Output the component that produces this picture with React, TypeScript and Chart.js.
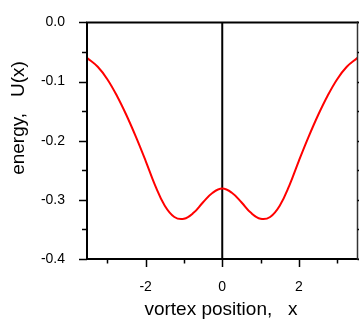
import React, { useEffect, useRef } from "react";
import { Chart, registerables } from "chart.js";

Chart.register(...registerables);

// Vortex energy profile U(x) along the position x
const positions = [
  -3.53, -3.25, -3.0, -2.75, -2.5, -2.25, -2.0, -1.75, -1.5, -1.25, -1.0, -0.75, -0.5, -0.25, 0,
  0.25, 0.5, 0.75, 1.0, 1.25, 1.5, 1.75, 2.0, 2.25, 2.5, 2.75, 3.0, 3.25, 3.53,
];
const energies = [
  -0.06, -0.075, -0.096, -0.124, -0.157, -0.194, -0.234, -0.276, -0.31, -0.329, -0.332, -0.322,
  -0.304, -0.288, -0.281, -0.288, -0.304, -0.322, -0.332, -0.329, -0.31, -0.276, -0.234, -0.194,
  -0.157, -0.124, -0.096, -0.075, -0.06,
];

// Vertical marker at x = 0 spanning the full energy range
const markerX = [0, 0];
const markerY = [0, -0.4];

const xMajorTicks = [-2, 0, 2];
const xMinorTicks = [-3, -1, 1, 3];
const yMajorTicks = [0, -0.1, -0.2, -0.3, -0.4];
const yMinorTicks = [-0.05, -0.15, -0.25, -0.35];

const X_MIN = -3.53;
const X_MAX = 3.53;
const Y_MIN = -0.4;
const Y_MAX = 0;

const xTitle = "vortex position,   x";
const yTitle = "energy,   U(x)";

const FONT = "'Liberation Sans', Arial, sans-serif";

const frameAndTicks = {
  id: "frameAndTicks",
  afterDatasetsDraw(chart: any) {
    const { ctx, chartArea, scales } = chart;
    const xs = scales.x;
    const ys = scales.y;
    const { left, right, top, bottom } = chartArea;
    ctx.save();
    ctx.strokeStyle = "#000";
    ctx.lineCap = "butt";

    // frame
    ctx.lineWidth = 2;
    ctx.beginPath();
    ctx.moveTo(left - 1, top);
    ctx.lineTo(right + 1, top);
    ctx.moveTo(left, top - 1);
    ctx.lineTo(left, bottom + 1);
    ctx.moveTo(left - 1, bottom);
    ctx.lineTo(right + 1, bottom);
    ctx.stroke();
    ctx.lineWidth = 1.5;
    ctx.strokeStyle = "#333";
    ctx.beginPath();
    ctx.moveTo(right, top - 1);
    ctx.lineTo(right, bottom + 1);
    ctx.stroke();

    ctx.strokeStyle = "#000";
    ctx.lineWidth = 1.5;
    ctx.beginPath();
    for (const v of xMajorTicks) {
      const px = Math.round(xs.getPixelForValue(v)) + 0.5;
      ctx.moveTo(px, bottom);
      ctx.lineTo(px, bottom + 8);
    }
    for (const v of xMinorTicks) {
      const px = Math.round(xs.getPixelForValue(v)) + 0.5;
      ctx.moveTo(px, bottom);
      ctx.lineTo(px, bottom + 4.5);
    }
    for (const v of yMajorTicks) {
      const py = Math.round(ys.getPixelForValue(v)) + 0.5;
      ctx.moveTo(left, py);
      ctx.lineTo(left - 8, py);
      ctx.moveTo(right, py);
      ctx.lineTo(right + 8, py);
    }
    for (const v of yMinorTicks) {
      const py = Math.round(ys.getPixelForValue(v)) + 0.5;
      ctx.moveTo(left, py);
      ctx.lineTo(left - 5, py);
      ctx.moveTo(right, py);
      ctx.lineTo(right + 5, py);
    }
    ctx.stroke();

    // axis titles
    ctx.fillStyle = "#000";
    ctx.font = `19px ${FONT}`;
    ctx.textAlign = "center";
    ctx.textBaseline = "middle";
    ctx.fillText(xTitle, 221, 310);
    ctx.translate(19, 118);
    ctx.rotate(-Math.PI / 2);
    ctx.fillText(yTitle, 0, 0);
    ctx.restore();
  },
};

export default function App() {
  const canvasRef = useRef<HTMLCanvasElement>(null);

  useEffect(() => {
    document.body.style.margin = "0";
    const canvas = canvasRef.current;
    if (!canvas) return;
    const chart = new Chart(canvas, {
      type: "line",
      data: {
        datasets: [
          {
            data: positions.map((x, i) => ({ x, y: energies[i] })),
            borderColor: "#ff0000",
            borderWidth: 2,
            pointRadius: 0,
            tension: 0.4,
            order: 1,
          },
          {
            data: markerX.map((x, i) => ({ x, y: markerY[i] })),
            borderColor: "#000",
            borderWidth: 2,
            pointRadius: 0,
            order: 2,
          },
        ],
      },
      options: {
        animation: false,
        responsive: false,
        devicePixelRatio: 1,
        layout: { padding: { top: 15, right: 1.5, left: 0, bottom: 0 } },
        plugins: { legend: { display: false }, tooltip: { enabled: false } },
        scales: {
          x: {
            type: "linear",
            min: X_MIN,
            max: X_MAX,
            grid: { display: false },
            border: { display: false },
            afterBuildTicks: (scale: any) => {
              scale.ticks = xMajorTicks.map((value) => ({ value }));
            },
            afterFit: (scale: any) => {
              scale.height = 64;
            },
            ticks: {
              font: { family: FONT, size: 14 },
              color: "#000",
              padding: 12,
              maxRotation: 0,
              callback: (v: any) => String(v),
            },
          },
          y: {
            type: "linear",
            min: Y_MIN,
            max: Y_MAX,
            grid: { display: false },
            border: { display: false },
            afterBuildTicks: (scale: any) => {
              scale.ticks = yMajorTicks.map((value) => ({ value }));
            },
            afterFit: (scale: any) => {
              scale.width = 87;
            },
            ticks: {
              font: { family: FONT, size: 14 },
              color: "#000",
              padding: 14,
              callback: (v: any) => Number(v).toFixed(1),
            },
          },
        },
      },
      plugins: [frameAndTicks],
    });
    return () => chart.destroy();
  }, []);

  return (
    <div style={{ position: "absolute", left: 0, top: 0, width: 359, height: 323, background: "#fff" }}>
      <canvas ref={canvasRef} width={359} height={323} style={{ display: "block" }} />
    </div>
  );
}
